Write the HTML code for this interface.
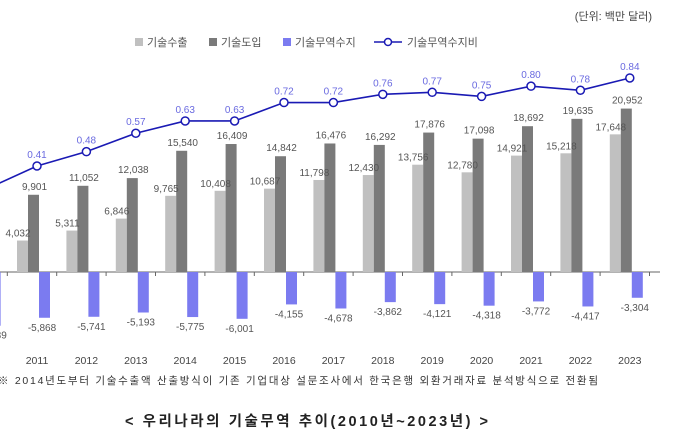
<!DOCTYPE html>
<html><head><meta charset="utf-8">
<style>
html,body{margin:0;padding:0;background:#fff;width:686px;height:440px;overflow:hidden}
svg{display:block;font-family:"Liberation Sans","Noto Sans CJK KR",sans-serif}
</style></head>
<body>
<svg id="chart" width="686" height="440" viewBox="0 0 686 440" xmlns="http://www.w3.org/2000/svg">
<text x="652" y="20" font-size="11" fill="#444" text-anchor="end">(단위: 백만 달러)</text>
<g font-size="11" fill="#555">
 <rect x="135" y="38" width="8" height="8" fill="#c0c0c0"/>
 <text x="147" y="46">기술수출</text>
 <rect x="209" y="38" width="8" height="8" fill="#7a7a7a"/>
 <text x="221" y="46">기술도입</text>
 <rect x="283" y="38" width="8" height="8" fill="#7b7bf0"/>
 <text x="295" y="46">기술무역수지</text>
 <line x1="374" y1="42" x2="402" y2="42" stroke="#1a1ab4" stroke-width="1.6"/>
 <circle cx="388" cy="42" r="3.5" fill="#fff" stroke="#1a1ab4" stroke-width="1.5"/>
 <text x="407" y="46">기술무역수지비</text>
</g>
<g id="plot"></g>
<text x="-2" y="384" font-size="10.5" fill="#333" textLength="600" lengthAdjust="spacing">※ 2014년도부터 기술수출액 산출방식이 기존 기업대상 설문조사에서 한국은행 외환거래자료 분석방식으로 전환됨</text>
<text x="125" y="426" font-size="14.5" font-weight="bold" fill="#222" textLength="363" lengthAdjust="spacing">&lt; 우리나라의 기술무역 추이(2010년~2023년) &gt;</text>
</svg>
<script>
const years=["2010","2011","2012","2013","2014","2015","2016","2017","2018","2019","2020","2021","2022","2023"];
const exportVals=[3345,4032,5311,6846,9765,10408,10687,11798,12430,13756,12780,14921,15218,17648];
const importVals=[10235,9901,11052,12038,15540,16409,14842,16476,16292,17876,17098,18692,19635,20952];
const balanceVals=[-6889,-5868,-5741,-5193,-5775,-6001,-4155,-4678,-3862,-4121,-4318,-3772,-4417,-3304];
const ratioVals=[0.30,0.41,0.48,0.57,0.63,0.63,0.72,0.72,0.76,0.77,0.75,0.80,0.78,0.84];

const NS="http://www.w3.org/2000/svg";
const plot=document.getElementById('plot');
const base=272, step=49.4, x0=-15.4, k=0.0078, bw=11;
const xc=i=>x0+i*step;
const yv=v=>base-v*k;
const yr=r=>166-(r-0.41)*204.7;
const fmt=v=>(v<0?"-":"")+Math.abs(v).toLocaleString('en-US');
function mk(tag,attrs){const e=document.createElementNS(NS,tag);for(const a in attrs)e.setAttribute(a,attrs[a]);plot.appendChild(e);return e;}

const axis=mk('line',{x1:-20,y1:base,x2:660,y2:base,stroke:'#666','stroke-width':1});



years.forEach((y,i)=>{
  const c=xc(i);
  const t=mk('line',{x1:c+step/2-2,y1:base,x2:c+step/2-2,y2:base+4,stroke:'#666'});
  
  
  const e=mk('rect',{x:c-17,y:yv(exportVals[i]),width:bw,height:exportVals[i]*k,fill:'#c0c0c0'});
  
  
  const m=mk('rect',{x:c-6,y:yv(importVals[i]),width:bw,height:importVals[i]*k,fill:'#7a7a7a'});
  
  
  const b=mk('rect',{x:c+5,y:base,width:bw,height:-balanceVals[i]*k,fill:'#7b7bf0'});
  
  
  const le=mk('text',{x:c-16,y:yv(exportVals[i])-4,'font-size':10,fill:'#555','text-anchor':'middle'});le.textContent=fmt(exportVals[i]);
  
  
  const lm=mk('text',{x:c+0.5,y:yv(importVals[i])-5,'font-size':10,fill:'#555','text-anchor':'middle'});lm.textContent=fmt(importVals[i]);
  
  
  const lb=mk('text',{x:c+8,y:base-balanceVals[i]*k+13,'font-size':10,fill:'#555','text-anchor':'middle'});lb.textContent=fmt(balanceVals[i]);
  
  
  const yl=mk('text',{x:c+3,y:364,'font-size':10.5,fill:'#444','text-anchor':'middle'});yl.textContent=y;
  
  
});

const pts=ratioVals.map((r,i)=>(xc(i)+3)+','+yr(r)).join(' ');
const pl=mk('polyline',{points:pts,fill:'none',stroke:'#1a1ab4','stroke-width':1.6});


ratioVals.forEach((r,i)=>{
  const cx=xc(i)+3;
  const p=mk('circle',{cx:cx,cy:yr(r),r:4,fill:'#fff',stroke:'#1a1ab4','stroke-width':1.5});
  
  
  const l=mk('text',{x:cx,y:yr(r)-8,'font-size':10,fill:'#6a6ae0','text-anchor':'middle'});l.textContent=r.toFixed(2);
  
  
});
</script>
</body></html>
